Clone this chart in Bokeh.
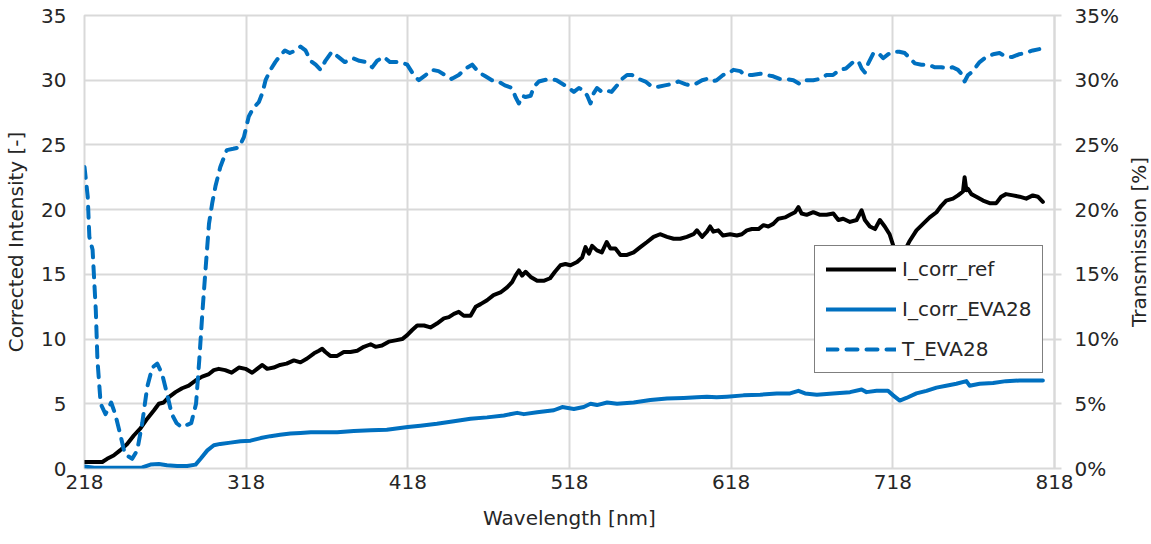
import math

from bokeh.plotting import figure
from bokeh.layouts import row
from bokeh.models import Range1d, LinearAxis, FixedTicker, PrintfTickFormatter
from bokeh.core.properties import value
from bokeh.embed import file_html
from bokeh.resources import INLINE

# ---- data -------------------------------------------------------------
wl_ref = [218, 224, 229, 232, 236, 240, 244.4, 248.5, 252.6, 256.8, 261, 264, 267, 270, 274.3,
          278.4, 282.5, 286.7, 290.8, 295, 298, 301, 305, 309, 313.5, 317.6, 321.7, 324.8, 328,
          331, 335, 339, 343, 347.5, 351.6, 355.7, 360, 363, 365, 367, 370, 374.3, 378.4, 382.5,
          386.7, 390.8, 395, 398, 402, 406.2, 410.4, 414.5, 417.6, 420.7, 423.8, 428, 432, 436,
          440.3, 443.4, 446.5, 449.5, 452.6, 456.8, 460, 463, 467, 471, 475.3, 479.4, 482.5,
          484.6, 486.7, 488.7, 490.8, 494, 498, 502, 506, 509, 512.4, 515.5, 518.6, 522.7, 525.8,
          527.9, 530, 532, 535, 538, 541, 543.3, 546.4, 549.5, 553.6, 557.7, 561.8, 566, 570, 574,
          578.3, 582.4, 586.5, 590.6, 594.7, 596.8, 600, 603, 605, 607, 610, 613, 617.4, 621.5,
          624.6, 627.7, 630.8, 634.9, 638, 641, 644, 647.2, 651.3, 654.4, 657.5, 659.6, 661.6,
          664.7, 668.8, 673, 677, 681.2, 684.3, 687.3, 691.5, 695.6, 698.7, 700.7, 703.8, 707,
          710, 713, 716, 719.2, 722.3, 725.4, 728.5, 732.6, 736.7, 740.8, 745, 748, 751, 755.2,
          758.3, 761.4, 762.4, 763.5, 764.5, 766.6, 769.6, 773.8, 777.9, 782, 785, 788, 792.3,
          796.4, 800.5, 804.6, 807.7, 810.8]
i_corr_ref = [0.5, 0.5, 0.5, 0.75, 1.0, 1.4, 1.9, 2.55, 3.1, 3.85, 4.5, 5.0, 5.1, 5.5, 5.9,
              6.2, 6.4, 6.8, 7.1, 7.3, 7.6, 7.7, 7.6, 7.4, 7.8, 7.7, 7.4, 7.7, 8.0,
              7.7, 7.8, 8.0, 8.1, 8.35, 8.2, 8.5, 8.9, 9.1, 9.25, 9.0, 8.7, 8.7, 9.0, 9.0,
              9.1, 9.4, 9.6, 9.4, 9.5, 9.8, 9.9, 10.0, 10.3, 10.7, 11.05, 11.05, 10.9, 11.2,
              11.6, 11.7, 11.95, 12.1, 11.8, 11.8, 12.5, 12.7, 13.0, 13.4, 13.6, 14.0, 14.4,
              14.9, 15.3, 14.9, 15.2, 14.8, 14.5, 14.5, 14.7, 15.2, 15.7, 15.8, 15.7, 15.95, 16.3,
              17.1, 16.6, 17.2, 16.85, 16.7, 17.5, 17.0, 17.0, 16.5, 16.5, 16.7, 17.1, 17.5, 17.9, 18.1,
              17.9, 17.75, 17.75, 17.9, 18.1, 18.4, 17.9, 18.3, 18.7, 18.3, 18.4, 18.0, 18.1, 18.0,
              18.1, 18.4, 18.5, 18.5, 18.8, 18.7, 18.9, 19.3, 19.4, 19.6, 19.8, 20.2, 19.7,
              19.6, 19.8, 19.6, 19.6, 19.7, 19.2, 19.3, 19.05, 19.2, 19.95, 19.2, 18.7, 18.5,
              19.2, 18.7, 18.1, 16.85, 16.3, 16.85, 17.6, 18.4, 18.9, 19.4, 19.8, 20.3, 20.7, 20.85,
              21.1, 21.4, 22.5, 21.5, 21.6, 21.2, 21.0, 20.7, 20.5, 20.5, 21.0, 21.2, 21.1,
              21.0, 20.85, 21.1, 21.0, 20.6]

wl_eva = [218, 224, 232, 240, 248.5, 253.7, 258.8, 264, 269, 275.3, 281.5, 286.7, 289.8, 294,
          298, 302, 308.3, 314.5, 320.7, 327, 333, 339, 345.4, 351.6, 358, 364, 374.3, 384.6,
          395, 405, 418, 425.8, 436, 446.5, 456.8, 467, 477.4, 485.6, 489.8, 498, 508.3, 513.5,
          520.7, 526.8, 531, 535, 541.3, 547.4, 557.7, 568, 578.3, 588.6, 596.8, 603, 609, 615.3,
          625.6, 636, 646.2, 654.4, 659.6, 663.7, 671, 681, 691.5, 698.7, 701.7, 708, 715, 718.2,
          722.3, 726.4, 732.6, 738.8, 745, 751, 757.3, 763.5, 765.5, 771.7, 780, 788, 796.4,
          804.6, 810.8]
i_corr_eva28 = [0.15, 0.05, 0.05, 0.05, 0.05, 0.08, 0.3, 0.35, 0.25, 0.2, 0.2, 0.3, 0.75, 1.4,
                1.8, 1.9, 2.0, 2.1, 2.15, 2.35, 2.5, 2.6, 2.7, 2.75, 2.8, 2.8, 2.8, 2.9,
                2.95, 3.0, 3.2, 3.3, 3.45, 3.65, 3.85, 3.95, 4.1, 4.3, 4.2, 4.35, 4.5, 4.75,
                4.6, 4.75, 5.0, 4.9, 5.1, 5.0, 5.1, 5.3, 5.4, 5.45, 5.5, 5.55, 5.5, 5.55,
                5.65, 5.7, 5.8, 5.8, 6.0, 5.8, 5.7, 5.8, 5.9, 6.1, 5.9, 6.0, 6.0, 5.65,
                5.25, 5.45, 5.8, 6.0, 6.25, 6.4, 6.55, 6.75, 6.4, 6.55, 6.6, 6.75, 6.8,
                6.8, 6.8]

wl_t = [218, 220, 221, 223, 225, 226, 228, 231, 234.5, 237, 240, 243, 247.5, 250.6, 253.7, 256.8,
        259.9, 263, 266, 269, 272, 275, 278, 284, 287, 289, 291, 293, 295, 297, 299, 302, 306,
        310, 313.5, 316.6, 319.6, 322.7, 325.8, 328, 330, 333, 336, 339, 342, 345, 348.5, 351.6,
        354.7, 357.8, 361, 364, 367, 371, 375, 379, 384, 388, 392, 396, 399, 403, 407, 413.5,
        417.6, 421.7, 424.8, 429, 433, 437, 441, 445, 449.5, 453.7, 457.8, 462, 466, 470, 474,
        478, 482.5, 484.6, 486.7, 488.7, 490.8, 494, 496, 499, 502, 506, 510, 512.5, 516.6,
        520.7, 523.8, 526.8, 529, 531, 533, 535, 538, 541, 544, 547.4, 550.5, 553.6, 556.7,
        560.8, 565, 569, 573, 577, 581, 585.5, 589.6, 592.7, 595.8, 600, 603, 606, 609, 613,
        616, 619.4, 623.6, 626.6, 631, 636, 640, 644, 648, 652, 656.5, 660.6, 664.7, 668.8,
        673, 677, 681, 685, 689, 693.4, 696.6, 698.7, 700.7, 702.8, 706, 709, 712, 715, 718,
        722, 725.4, 728.5, 731.6, 735.7, 739.8, 744, 748, 752, 755, 758.3, 760.4, 762.4,
        764.5, 766.6, 768.6, 771.7, 775.8, 780, 784, 788, 792, 796, 800, 804.6, 808.6]
t_eva28 = [23.3, 21.0, 17.9, 16.9, 12.2, 8.4, 5.0, 4.2, 5.1, 4.2, 2.7, 1.1, 0.75, 1.4, 3.5, 6.3,
           7.8, 8.1, 7.3, 5.8, 4.2, 3.5, 3.2, 3.5, 5.0, 8.4, 12.2, 15.6, 18.9, 20.5, 21.8, 23.3, 24.6,
           24.7, 24.8, 25.6, 27.2, 27.9, 28.3, 29.0, 30.0, 30.8, 31.4, 31.9, 32.3, 32.1, 32.3, 32.6,
           32.3, 31.5, 31.2, 30.8, 31.5, 32.2, 31.8, 31.4, 31.7, 31.5, 31.4, 31.0, 31.5, 31.8, 31.4, 31.4,
           31.2, 30.4, 30.0, 30.4, 30.8, 30.7, 30.4, 30.1, 30.4, 30.9, 31.2, 30.6, 30.3, 30.0, 29.9,
           29.6, 29.4, 28.7, 28.2, 28.8, 28.7, 28.8, 29.5, 29.9, 30.0, 30.1, 30.0, 29.8, 29.5,
           29.1, 29.4, 29.2, 28.8, 28.2, 29.0, 29.4, 29.1, 29.2, 29.1, 29.6, 30.1, 30.4, 30.4,
           30.1, 29.9, 29.5, 29.5, 29.6, 29.7, 29.9, 29.7, 29.6, 29.7, 30.0, 30.1, 29.9, 30.0, 30.4,
           30.5, 30.8, 30.7, 30.4, 30.4, 30.5, 30.4, 30.3, 30.1, 30.1, 30.0, 29.7, 30.0, 30.0,
           30.1, 30.4, 30.4, 30.8, 30.9, 31.4, 31.5, 30.9, 30.6, 31.3, 32.1, 32.1, 31.7, 32.0, 32.2,
           32.2, 32.1, 31.7, 31.3, 31.2, 31.2, 31.0, 31.0, 30.9, 31.0, 30.8, 30.5, 29.9,
           30.4, 30.6, 30.9, 31.4, 31.8, 32.0, 32.1, 31.8, 31.8, 32.0, 32.1, 32.3, 32.4]

x_ticks = [218, 318, 418, 518, 618, 718, 818]
y_ticks = [0, 5, 10, 15, 20, 25, 30, 35]
right_title = "Transmission [%]"

# ---- styling ------------------------------------------------------------
FONT = "DejaVu Sans"
TEXT = "#262626"
GRID = "#d9d9d9"
BLUE = "#0070c0"
STRIP = 30          # width of the strip that carries the right-hand title

p = figure(width=1151 - STRIP, height=544, x_range=Range1d(218, 818), y_range=Range1d(0, 35),
           output_backend="svg", toolbar_location=None,
           min_border_left=84, min_border_right=67, min_border_top=15, min_border_bottom=76)
p.extra_y_ranges = {"trans": Range1d(0, 35)}
p.outline_line_color = GRID
p.outline_line_width = 2
p.background_fill_color = "white"
p.border_fill_color = "white"

for g, t in ((p.xgrid, x_ticks), (p.ygrid, y_ticks)):
    g.ticker = FixedTicker(ticks=t)
    g.grid_line_color = GRID
    g.grid_line_width = 2


def style_axis(ax):
    ax.major_label_text_font = FONT
    ax.major_label_text_font_size = "20px"
    ax.major_label_text_color = TEXT
    ax.axis_label_text_font = FONT
    ax.axis_label_text_font_size = "20px"
    ax.axis_label_text_font_style = "normal"
    ax.axis_label_text_color = TEXT
    ax.minor_tick_line_color = None


xa = p.xaxis[0]
xa.ticker = FixedTicker(ticks=x_ticks)
xa.axis_label = "Wavelength [nm]"
xa.axis_line_color = None
xa.major_tick_line_color = None
xa.major_tick_in = 0
xa.major_tick_out = 0
xa.major_label_standoff = 6
xa.axis_label_standoff = 14
style_axis(xa)

ya = p.yaxis[0]
ya.ticker = FixedTicker(ticks=y_ticks)
ya.axis_label = "Corrected Intensity [-]"
ya.axis_line_color = None
ya.major_tick_line_color = None
ya.major_tick_in = 0
ya.major_tick_out = 0
ya.major_label_standoff = 18
ya.axis_label_standoff = 10
style_axis(ya)

# percentage axis on the right
ra = LinearAxis(y_range_name="trans", ticker=FixedTicker(ticks=y_ticks),
                formatter=PrintfTickFormatter(format="%d%%"))
ra.axis_line_color = GRID
ra.axis_line_width = 2
ra.major_tick_line_color = GRID
ra.major_tick_line_width = 2
ra.major_tick_in = 0
ra.major_tick_out = 7
ra.major_label_standoff = 13
style_axis(ra)
p.add_layout(ra, "right")

# ---- series -------------------------------------------------------------
p.line(wl_ref, i_corr_ref, line_color="black", line_width=4, line_join="round",
       line_cap="round", legend_label="I_corr_ref")
p.line(wl_eva, i_corr_eva28, line_color=BLUE, line_width=4, line_join="round",
       line_cap="round", legend_label="I_corr_EVA28")
p.line(wl_t, t_eva28, y_range_name="trans", line_color=BLUE, line_width=4,
       line_join="round", line_cap="round", line_dash="11 9", legend_label="T_EVA28")

lg = p.legend[0]
lg.location = (730, 95)
lg.border_line_color = "black"
lg.border_line_width = 1.5
lg.background_fill_alpha = 1
lg.label_text_font = FONT
lg.label_text_font_size = "20px"
lg.label_text_color = TEXT
lg.glyph_width = 70
lg.glyph_height = 20
lg.label_height = 20
lg.spacing = 16
lg.padding = 11
lg.margin = 0
lg.label_standoff = 6

# ---- right-hand title strip (text reads bottom to top) -------------------
# the strip's frame lines up with the main frame, so its y range is the same 0..35
side = figure(width=STRIP, height=544, x_range=Range1d(0, STRIP), y_range=Range1d(0, 35),
              x_axis_type=None, y_axis_type=None, output_backend="svg",
              toolbar_location=None, min_border=0)
side.outline_line_color = None
side.grid.visible = False
side.text(x=[17], y=[17.5], text=[right_title], angle=math.pi / 2,
          text_align="center", text_baseline="middle", text_font=value(FONT),
          text_font_size=value("20px"), text_color=TEXT)

open("out.html", "w").write(file_html(row(p, side), INLINE))
